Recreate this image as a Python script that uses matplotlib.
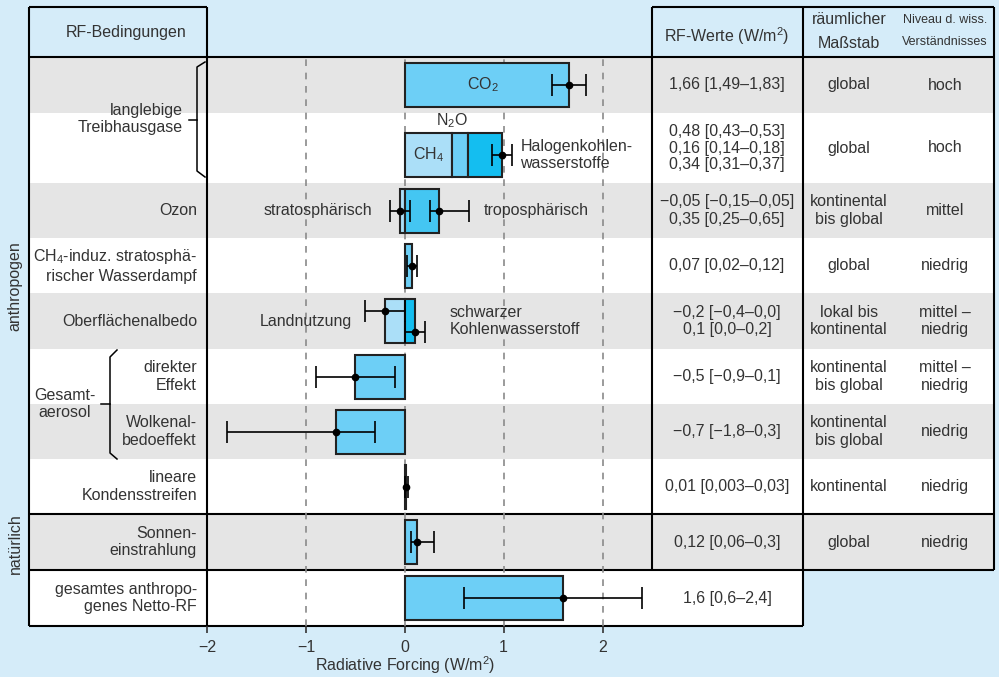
import matplotlib.pyplot as plt
from matplotlib.patches import Rectangle

plt.rcParams['font.family'] = ['Liberation Sans', 'DejaVu Sans']
plt.rcParams['mathtext.default'] = 'regular'

# --- data -------------------------------------------------------------
row_labels = ["", "langlebige\nTreibhausgase", "Ozon",
              "CH$_4$-induz. stratosphä-\nrischer Wasserdampf",
              "Oberflächenalbedo", "direkter\nEffekt", "Wolkenal-\nbedoeffekt",
              "lineare\nKondensstreifen", "Sonnen-\neinstrahlung",
              "gesamtes anthropo-\ngenes Netto-RF"]

# rows with one bar: row index, best value, low, high
single_rows = [0, 3, 5, 6, 7, 8, 9]
single_values = [1.66, 0.07, -0.5, -0.7, 0.01, 0.12, 1.6]
single_low = [1.49, 0.02, -0.9, -1.8, 0.003, 0.06, 0.6]
single_high = [1.83, 0.12, -0.1, -0.3, 0.03, 0.3, 2.4]

ghg_names = ["CH$_4$", "N$_2$O", "Halogenkohlen-\nwasserstoffe"]
ghg_values = [0.48, 0.16, 0.34]
ghg_low, ghg_high = 0.88, 1.08

ozone_names = ["stratosphärisch", "troposphärisch"]
ozone_values = [-0.05, 0.35]
ozone_low = [-0.15, 0.25]
ozone_high = [0.05, 0.65]

albedo_names = ["Landnutzung", "schwarzer\nKohlenwasserstoff"]
albedo_values = [-0.2, 0.1]
albedo_low = [-0.4, 0.0]
albedo_high = [0.0, 0.2]

rf_text = ["1,66 [1,49–1,83]",
           "0,48 [0,43–0,53]\n0,16 [0,14–0,18]\n0,34 [0,31–0,37]",
           "−0,05 [−0,15–0,05]\n0,35 [0,25–0,65]",
           "0,07 [0,02–0,12]",
           "−0,2 [−0,4–0,0]\n0,1 [0,0–0,2]",
           "−0,5 [−0,9–0,1]",
           "−0,7 [−1,8–0,3]",
           "0,01 [0,003–0,03]",
           "0,12 [0,06–0,3]",
           "1,6 [0,6–2,4]"]
scale_text = ["global", "global", "kontinental\nbis global", "global",
              "lokal bis\nkontinental", "kontinental\nbis global",
              "kontinental\nbis global", "kontinental", "global"]
loso_text = ["hoch", "hoch", "mittel", "niedrig", "mittel –\nniedrig",
             "mittel –\nniedrig", "niedrig", "niedrig", "niedrig"]

ticks = [-2, -1, 0, 1, 2]
tick_labels = ["−2", "−1", "0", "1", "2"]

# --- layout (pixels) --------------------------------------------------
W, H = 999, 677
row_edges = [57, 113, 183, 238, 293, 349, 404, 459, 514, 570, 626]
row_mid = [(a + b) / 2 for a, b in zip(row_edges[:-1], row_edges[1:])]
bar_y = list(row_mid)
bar_y[1] += 7
bar_h = 44

BG = '#d5ecf9'
GRAY = '#e5e5e5'
TXT = '#333333'
C_MAIN = '#6dcff6'
C_LIGHT = '#abdff8'
C_DARK = '#14bef0'
C_MID = '#44c6f2'
EDGE = '#222222'
FS = 11.5
LS = 1.2

fig = plt.figure(figsize=(W / 100, H / 100), dpi=100, facecolor=BG)
bg = fig.add_axes([0, 0, 1, 1], zorder=0)
bg.set_xlim(0, W)
bg.set_ylim(H, 0)
bg.axis('off')

# row bands
for i in range(len(row_mid)):
    right = 803 if i == len(row_mid) - 1 else 994
    color = GRAY if i % 2 == 0 else 'white'
    bg.add_patch(Rectangle((29, row_edges[i]), right - 29,
                           row_edges[i + 1] - row_edges[i], color=color, lw=0))

lk = dict(color='black', lw=1.5, solid_capstyle='butt')
bg.plot([29, 29], [7, 626], **lk)
bg.plot([207, 207], [7, 626], **lk)
bg.plot([29, 207], [7, 7], **lk)
bg.plot([29, 994], [57, 57], **lk)
bg.plot([29, 994], [514, 514], **lk)
bg.plot([29, 994], [570, 570], **lk)
bg.plot([29, 803], [626, 626], **lk)
bg.plot([652, 652], [7, 570], **lk)
bg.plot([803, 803], [7, 626], **lk)
bg.plot([994, 994], [7, 570], **lk)
bg.plot([652, 994], [7, 7], **lk)

# headers
bg.text(126, 32, "RF-Bedingungen", ha='center', va='center', fontsize=FS, color=TXT)
bg.text(727, 36, "RF-Werte (W/m$^2$)", ha='center', va='center', fontsize=FS, color=TXT)
bg.text(849, 20, "räumlicher", ha='center', va='center', fontsize=FS, color=TXT)
bg.text(849, 43, "Maßstab", ha='center', va='center', fontsize=FS, color=TXT)
bg.text(945, 20, "Niveau d. wiss.", ha='center', va='center', fontsize=9, color=TXT)
bg.text(945, 42, "Verständnisses", ha='center', va='center', fontsize=9, color=TXT)

bg.text(15, 286, "anthropogen", rotation=90, ha='center', va='center', fontsize=FS, color=TXT)
bg.text(15, 544, "natürlich", rotation=90, ha='center', va='center', fontsize=FS, color=TXT)

# left labels
for i, lab in enumerate(row_labels):
    if not lab:
        continue
    if i == 1:
        bg.text(183, 119, lab, ha='right', va='center', fontsize=FS, color=TXT,
                linespacing=LS)
    else:
        bg.text(197, row_mid[i], lab, ha='right', va='center', fontsize=FS,
                color=TXT, linespacing=LS)
bg.text(34, 404, "Gesamt-\naerosol", ha='left', va='center', fontsize=FS,
        color=TXT, linespacing=LS, multialignment='center')

bk = dict(color='black', lw=1.1)
bg.plot([205, 197, 197, 205], [62, 67, 171, 177], **bk)
bg.plot([189, 197], [120, 120], **bk)
bg.plot([117, 110, 110, 117], [350, 357, 453, 459], **bk)
bg.plot([101, 110], [404, 404], **bk)

# right table
for i, t in enumerate(rf_text):
    ls = 1.1 if t.count("\n") > 1 else LS
    bg.text(727, row_mid[i], t, ha='center', va='center', fontsize=FS,
            color=TXT, linespacing=ls)
for i, t in enumerate(scale_text):
    bg.text(849, row_mid[i], t, ha='center', va='center', fontsize=FS,
            color=TXT, linespacing=LS)
for i, t in enumerate(loso_text):
    bg.text(945, row_mid[i], t, ha='center', va='center', fontsize=FS,
            color=TXT, linespacing=LS)

bg.text(405, 665, "Radiative Forcing (W/m$^2$)", ha='center', va='center',
        fontsize=FS, color=TXT)

# --- main bar axes ----------------------------------------------------
ax = fig.add_axes([207 / W, (H - 626) / H, 445 / W, 569 / H], zorder=1)
ax.patch.set_visible(False)
ax.set_xlim(-2, 2.5)
ax.set_ylim(626, 57)
for s in ax.spines.values():
    s.set_visible(False)
ax.set_yticks([])
ax.set_xticks(ticks)
ax.set_xticklabels(tick_labels)
ax.tick_params(axis='x', length=5, width=1.2, color='#333333', labelsize=FS,
               labelcolor=TXT, pad=5)

for x in ticks[1:]:
    ax.axvline(x, color='#8a8a8a', lw=1.2, ls=(0, (4, 4)), zorder=0.5)

bk = dict(edgecolor=EDGE, linewidth=1.5, height=bar_h, zorder=2)
eb = dict(fmt='o', color='black', ms=4.5, capsize=8, elinewidth=1.2,
          capthick=1.2, zorder=3)

for r, v, lo, hi in zip(single_rows, single_values, single_low, single_high):
    ax.barh(bar_y[r], v, color=C_MAIN, **bk)
    ax.errorbar(v, bar_y[r], xerr=[[v - lo], [hi - v]], **eb)

# long-lived GHG stack
left = 0
for v, c in zip(ghg_values, [C_LIGHT, C_MAIN, C_DARK]):
    ax.barh(bar_y[1], v, left=left, color=c, **bk)
    left += v
ax.errorbar(left, bar_y[1], xerr=[[left - ghg_low], [ghg_high - left]], **eb)
ax.text(ghg_values[0] / 2, bar_y[1], ghg_names[0], ha='center', va='center',
        fontsize=FS, color=TXT, zorder=4)
ax.text(ghg_values[0] + ghg_values[1] / 2 - 0.08, 121, ghg_names[1], ha='center',
        va='center', fontsize=FS, color=TXT, zorder=4)
ax.text(1.17, bar_y[1], ghg_names[2], ha='left', va='center', fontsize=FS,
        color=TXT, linespacing=LS, zorder=4)
ax.text(single_values[0] / 2 - 0.04, bar_y[0], "CO$_2$", ha='center', va='center',
        fontsize=FS, color=TXT, zorder=4)

# ozone
for v, c in zip(ozone_values, [C_LIGHT, C_MID]):
    ax.barh(bar_y[2], v, color=c, **bk)
for v, lo, hi in zip(ozone_values, ozone_low, ozone_high):
    ax.errorbar(v, bar_y[2], xerr=[[v - lo], [hi - v]], **eb)
ax.text(-0.33, bar_y[2], ozone_names[0], ha='right', va='center', fontsize=FS, color=TXT)
ax.text(0.8, bar_y[2], ozone_names[1], ha='left', va='center', fontsize=FS, color=TXT)

# surface albedo
for v, c in zip(albedo_values, [C_LIGHT, C_DARK]):
    ax.barh(bar_y[4], v, color=c, **bk)
for v, lo, hi, dy in zip(albedo_values, albedo_low, albedo_high, [-10, 11]):
    ax.errorbar(v, bar_y[4] + dy, xerr=[[v - lo], [hi - v]], **eb)
ax.text(-0.53, bar_y[4], albedo_names[0], ha='right', va='center', fontsize=FS, color=TXT)
ax.text(0.45, bar_y[4], albedo_names[1], ha='left', va='center', fontsize=FS,
        color=TXT, linespacing=LS)

fig.savefig('out.png', dpi=100, facecolor=BG)
